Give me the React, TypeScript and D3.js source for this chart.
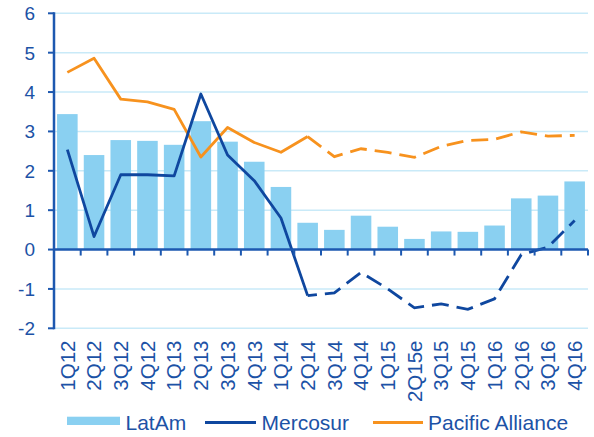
import React from "react";
import * as d3 from "d3";

const categories = ["1Q12","2Q12","3Q12","4Q12","1Q13","2Q13","3Q13","4Q13","1Q14","2Q14","3Q14","4Q14","1Q15","2Q15e","3Q15","4Q15","1Q16","2Q16","3Q16","4Q16"];
const latAm = [3.44,2.4,2.78,2.76,2.66,3.26,2.74,2.23,1.59,0.68,0.5,0.86,0.58,0.27,0.46,0.45,0.61,1.3,1.37,1.73];
const mercosur = [2.54,0.33,1.9,1.9,1.87,3.95,2.4,1.75,0.8,-1.17,-1.1,-0.58,-1.0,-1.48,-1.38,-1.52,-1.25,-0.13,0.06,0.74];
const pacific = [4.5,4.86,3.82,3.75,3.56,2.35,3.1,2.72,2.47,2.87,2.36,2.56,2.47,2.34,2.62,2.77,2.8,2.99,2.88,2.9];
const yTicks = [-2,-1,0,1,2,3,4,5,6];
const legendLabels = ["LatAm","Mercosur","Pacific Alliance"];
const dashFrom = 9;

const W = 594, H = 437;
const left = 54, right = 588, top = 13.3, bottom = 328.3;
const textColor = "#1C52A6";
const axisColor = "#1D58B0";
const barColor = "#8AD0F1";
const mercColor = "#0F479F";
const pacColor = "#F7921E";
const gridColor = "#C9EAF8";
const font = "'Liberation Sans', Arial, sans-serif";

export default function App() {
  const x = d3.scaleBand<string>().domain(categories).range([left, right]).padding(0);
  const y = d3.scaleLinear().domain([-2, 6]).range([bottom, top]);
  const bw = x.bandwidth();
  const barW = bw * 0.77;
  const cx = (i: number) => (x(categories[i]) as number) + bw / 2;

  const line = d3.line<[number, number]>().x(d => cx(d[0])).y(d => y(d[1]));
  const pts = (vals: number[], a: number, b: number) =>
    vals.slice(a, b + 1).map((v, k) => [a + k, v] as [number, number]);
  const seg = (vals: number[], a: number, b: number) => line(pts(vals, a, b)) || "";
  const segLen = (vals: number[], a: number, b: number) => {
    const p = pts(vals, a, b).map(d => [cx(d[0]), y(d[1])]);
    let L = 0;
    for (let i = 1; i < p.length; i++) L += Math.hypot(p[i][0] - p[i - 1][0], p[i][1] - p[i - 1][1]);
    return L;
  };

  const y0 = y(0);
  const dashOn = 17, dashOff = 8;
  const dash = `${dashOn},${dashOff}`;
  const mLen = segLen(mercosur, dashFrom, categories.length - 1);
  const mOffset = -(dashOn - (mLen % (dashOn + dashOff)));

  return (
    <svg width={W} height={H} style={{ position: "absolute", left: 0, top: 0, background: "#fff" }} fontFamily={font}>
      {yTicks.filter(t => t !== 0).map(t => (
        <line key={"g" + t} x1={left} x2={right} y1={y(t)} y2={y(t)} stroke={gridColor} strokeWidth={1.5} />
      ))}
      {latAm.map((v, i) => (
        <rect key={"b" + i} x={cx(i) - barW / 2} width={barW} y={y(Math.max(0, v))} height={Math.abs(y(v) - y0)} fill={barColor} />
      ))}
      <path d={seg(pacific, 0, dashFrom)} fill="none" stroke={pacColor} strokeWidth={2.8} strokeLinejoin="round" />
      <path d={seg(pacific, dashFrom, categories.length - 1)} fill="none" stroke={pacColor} strokeWidth={2.8} strokeDasharray={dash} />
      <path d={seg(mercosur, 0, dashFrom)} fill="none" stroke={mercColor} strokeWidth={2.8} strokeLinejoin="round" />
      <path d={seg(mercosur, dashFrom, categories.length - 1)} fill="none" stroke={mercColor} strokeWidth={2.8} strokeDasharray={dash} strokeDashoffset={mOffset} />
      {/* axes */}
      <line x1={left} x2={left} y1={top - 1} y2={bottom + 1} stroke={axisColor} strokeWidth={2.5} />
      {yTicks.map(t => (
        <g key={"yt" + t}>
          <line x1={left - 6} x2={left} y1={y(t)} y2={y(t)} stroke={axisColor} strokeWidth={2} />
          <text x={35} y={y(t)} dy="0.36em" textAnchor="end" fontSize={19} fill={textColor}>{t}</text>
        </g>
      ))}
      <line x1={left} x2={right} y1={y0} y2={y0} stroke={axisColor} strokeWidth={2.5} />
      {categories.map((c, i) => (
        <line key={"xt" + i} x1={(x(c) as number) + bw} x2={(x(c) as number) + bw} y1={y0} y2={y0 + 6} stroke={axisColor} strokeWidth={2} />
      ))}
      {categories.map((c, i) => (
        <text key={"xl" + i} transform={`translate(${cx(i) + 7.3},340.5) rotate(-90)`} textAnchor="end" fontSize={20.5} fill={textColor}>{c}</text>
      ))}
      {/* legend */}
      <rect x={67} y={416.7} width={53} height={8.3} fill={barColor} />
      <text x={125.5} y={430} fontSize={21} fill={textColor}>{legendLabels[0]}</text>
      <line x1={205} x2={256} y1={422.5} y2={422.5} stroke={mercColor} strokeWidth={2.8} />
      <text x={261.5} y={430} fontSize={21} fill={textColor}>{legendLabels[1]}</text>
      <line x1={373} x2={423} y1={422.5} y2={422.5} stroke={pacColor} strokeWidth={2.8} />
      <text x={428} y={430} fontSize={21} fill={textColor}>{legendLabels[2]}</text>
    </svg>
  );
}
